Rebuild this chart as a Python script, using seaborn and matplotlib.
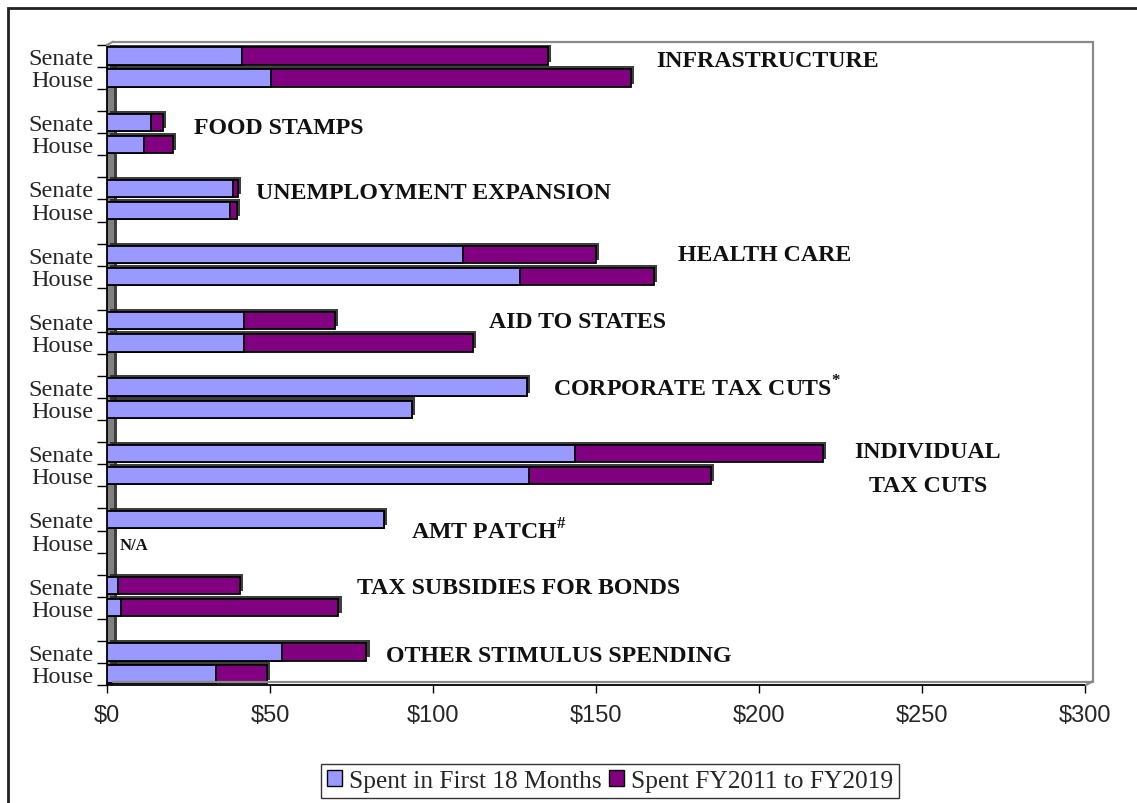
import numpy as np
import pandas as pd
import matplotlib
matplotlib.use("Agg")
import matplotlib.pyplot as plt
import seaborn as sns
from matplotlib import patheffects as pe
from matplotlib.lines import Line2D
from matplotlib.patches import Rectangle, Patch

# ---------------- data ----------------
programs = ["INFRASTRUCTURE", "FOOD STAMPS", "UNEMPLOYMENT EXPANSION", "HEALTH CARE",
            "AID TO STATES", "CORPORATE TAX CUTS", "INDIVIDUAL TAX CUTS", "AMT PATCH",
            "TAX SUBSIDIES FOR BONDS", "OTHER STIMULUS SPENDING"]
chambers = ["Senate", "House"]
senate_first18 = [41.4, 13.4, 38.5, 109.2, 42.0, 128.8, 143.6, 85.0, 3.5, 53.8]
senate_later = [93.9, 3.9, 1.6, 40.8, 27.9, 0.0, 76.1, 0.0, 37.3, 25.8]
house_first18 = [50.3, 11.3, 37.7, 126.7, 42.0, 93.6, 129.4, np.nan, 4.2, 33.4]
house_later = [110.4, 9.0, 2.1, 41.1, 70.3, 0.0, 55.9, np.nan, 66.8, 15.6]
series_names = ["Spent in First 18 Months", "Spent FY2011 to FY2019"]
x_ticks = [0, 50, 100, 150, 200, 250, 300]

LIGHT = "#9999FF"
PURPLE = "#800080"

rows = []
for i, p in enumerate(programs):
    for ch, f, l in (("Senate", senate_first18[i], senate_later[i]),
                     ("House", house_first18[i], house_later[i])):
        if np.isnan(f):
            continue
        rows.append({"key": f"{p}|{ch}", "first": f, "total": f + l})
df = pd.DataFrame(rows)

order = []
tick_labels = []
for i, p in enumerate(programs):
    for ch in chambers:
        order.append(f"{p}|{ch}")
        tick_labels.append(ch)
    if i < len(programs) - 1:
        order.append(f"gap{i}")
        tick_labels.append("")

# ---------------- figure ----------------
sns.set_theme(style="white")
plt.rcParams["font.family"] = ["Liberation Serif", "DejaVu Serif"]
plt.rcParams["mathtext.fontset"] = "custom"
plt.rcParams["mathtext.rm"] = "Liberation Serif"
plt.rcParams["mathtext.bf"] = "Liberation Serif:bold"

W, H = 1137, 804
fig = plt.figure(figsize=(W / 100, H / 100), dpi=100)
fig.patch.set_facecolor("white")


def fx(px):
    return px / W


def fy(py):
    return 1 - py / H


ax = fig.add_axes([fx(107), fy(686), fx(1085) - fx(107), fy(46) - fy(686)])
ax.set_facecolor("white")

# left 3D wall
ax.axvspan(0, 2.1, color="#808080", zorder=0, lw=0)

sns.barplot(data=df, x="total", y="key", order=order, color=PURPLE, saturation=1,
            orient="h", width=0.78, edgecolor="black", linewidth=1.3,
            errorbar=None, ax=ax, zorder=2)
for patch in ax.patches:
    patch.set_path_effects([pe.SimplePatchShadow(offset=(2.2, 2.2), shadow_rgbFace="#2a2a2a", alpha=0.9),
                            pe.Normal()])
sns.barplot(data=df, x="first", y="key", order=order, color=LIGHT, saturation=1,
            orient="h", width=0.78, edgecolor="black", linewidth=1.3,
            errorbar=None, ax=ax, zorder=3)

ax.set_xlim(0, 300)
ax.set_ylim(28.5, -0.5)
ax.set_xlabel("")
ax.set_ylabel("")

ax.set_yticks(range(len(order)))
ax.set_yticklabels(tick_labels, fontsize=17.5, fontfamily="Liberation Serif")
ax.set_yticks(np.arange(-0.5, len(order), 1.0), minor=True)
ax.tick_params(axis="y", which="major", length=0, pad=10)
ax.tick_params(axis="y", which="minor", length=7, width=1, direction="out", color="black", left=True)

ax.set_xticks(x_ticks)
ax.set_xticklabels([f"${v}" for v in x_ticks], fontsize=17, fontfamily="Liberation Sans")
ax.tick_params(axis="x", which="major", length=6, width=1, direction="out", color="black",
               bottom=True, pad=8)

for s in ("top", "right"):
    ax.spines[s].set_visible(False)
for s in ("left", "bottom"):
    ax.spines[s].set_color("black")
    ax.spines[s].set_linewidth(1.3)

# 3D back-wall outline
gray = "#8a8a8a"
for (x0, y0, x1, y1) in [(113, 42.7, 1093, 42.7), (1093, 42.7, 1093, 682),
                         (1093, 682, 1086, 686), (113, 682.5, 1093, 682.5),
                         (107, 46, 113, 42.7)]:
    fig.add_artist(Line2D([fx(x0), fx(x1)], [fy(y0), fy(y1)], color=gray, lw=1.6,
                          transform=fig.transFigure))

# category annotations
ann_kw = dict(fontsize=17.2, fontweight="bold", va="center", ha="left", color="#111111")
ax.text(168.4, 0.18, "INFRASTRUCTURE", **ann_kw)
ax.text(26.7, 3.23, "FOOD STAMPS", **ann_kw)
ax.text(45.7, 6.19, "UNEMPLOYMENT EXPANSION", **ann_kw)
ax.text(175.2, 9.01, "HEALTH CARE", **ann_kw)
ax.text(117.2, 12.02, "AID TO STATES", **ann_kw)
ax.text(136.8, 15.02, r"CORPORATE TAX CUTS$^{\mathbf{*}}$", **ann_kw)
ax.text(251.8, 17.9, "INDIVIDUAL", **{**ann_kw, "ha": "center"})
ax.text(251.8, 19.44, "TAX CUTS", **{**ann_kw, "ha": "center"})
ax.text(93.3, 21.53, r"AMT PATCH$^{\mathbf{\#}}$", **ann_kw)
ax.text(4.0, 22.17, "N/A", fontsize=12, fontweight="bold", va="center", ha="left", color="#111111")
ax.text(76.7, 24.08, "TAX SUBSIDIES FOR BONDS", **ann_kw)
ax.text(85.6, 27.17, "OTHER STIMULUS SPENDING", **ann_kw)

# legend
handles = [Patch(facecolor=LIGHT, edgecolor="black", lw=1),
           Patch(facecolor=PURPLE, edgecolor="black", lw=1)]
leg = fig.legend(handles, series_names, loc="center", bbox_to_anchor=(fx(610), fy(782)),
                 ncol=2, frameon=True, fancybox=False, edgecolor="black", fontsize=18.3,
                 handlelength=0.6, handleheight=0.6, handletextpad=0.25, columnspacing=0.3,
                 borderpad=0.25, borderaxespad=0)
leg.get_frame().set_linewidth(1)

# outer frame
fig.add_artist(Rectangle((fx(8), -0.02), 1.05, fy(9) + 0.02, transform=fig.transFigure,
                         fill=False, edgecolor="#222222", lw=2))

fig.savefig("out.png", dpi=100)
